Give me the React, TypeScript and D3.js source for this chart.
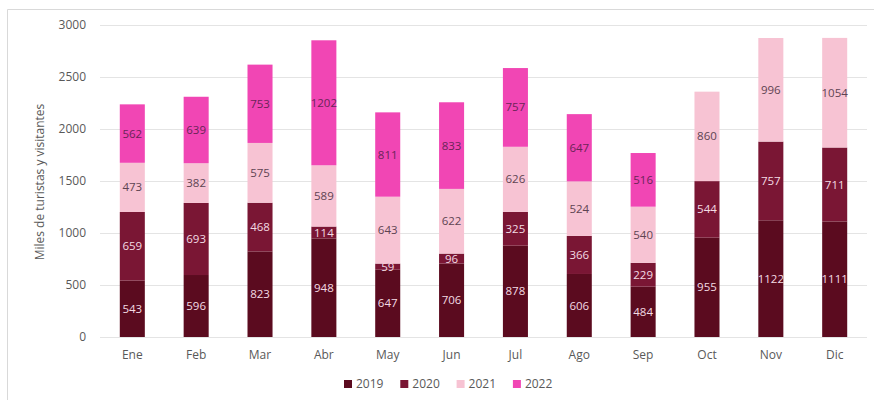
import * as d3 from "d3";

const months = ["Ene", "Feb", "Mar", "Abr", "May", "Jun", "Jul", "Ago", "Sep", "Oct", "Nov", "Dic"];
const years = ["2019", "2020", "2021", "2022"];
const v2019 = [543, 596, 823, 948, 647, 706, 878, 606, 484, 955, 1122, 1111];
const v2020 = [659, 693, 468, 114, 59, 96, 325, 366, 229, 544, 757, 711];
const v2021 = [473, 382, 575, 589, 643, 622, 626, 524, 540, 860, 996, 1054];
const v2022 = [562, 639, 753, 1202, 811, 833, 757, 647, 516, 0, 0, 0];
const yTicks = [0, 500, 1000, 1500, 2000, 2500, 3000];

const colors = ["#5b0b1f", "#7a1634", "#f7c3d3", "#f146b4"];
const labelColors = ["#f3dbe3", "#f3dbe3", "#5e4452", "#6a2457"];

const W = 874;
const H = 400;

export default function App() {
  const x = d3.scaleBand<string>().domain(months).range([100, 867]).paddingInner(0.608).paddingOuter(0.31);
  const y = d3.scaleLinear().domain([0, 3000]).range([337, 25]);

  const rows = months.map((m, i) => ({ m, "2019": v2019[i], "2020": v2020[i], "2021": v2021[i], "2022": v2022[i] }));
  const stacked = d3.stack<any>().keys(years)(rows);
  const font = "'Open Sans', 'Segoe UI', sans-serif";

  return (
    <div style={{ position: "absolute", left: 0, top: 0 }}>
      <svg width={W} height={H} style={{ display: "block", background: "#fff", fontFamily: font }}>
        {/* frame */}
        <line x1={7.5} x2={W} y1={9.5} y2={9.5} stroke="#d9d9d9" />
        <line x1={7.5} x2={7.5} y1={9.5} y2={H} stroke="#d9d9d9" />

        {/* grid + y ticks */}
        {yTicks.map((t) => (
          <g key={t}>
            <line x1={100} x2={867} y1={Math.round(y(t)) + 0.5} y2={Math.round(y(t)) + 0.5} stroke="#e4e4e4" />
            <text x={86} y={y(t)} dy="0.35em" textAnchor="end" fontSize={12} fill="#595959">
              {t}
            </text>
          </g>
        ))}

        <text transform="translate(44,182) rotate(-90)" textAnchor="middle" fontSize={12} fill="#595959">
          Miles de turistas y visitantes
        </text>

        {/* bars */}
        {stacked.map((s, si) => (
          <g key={s.key}>
            {s.map((d, i) =>
              d[1] - d[0] > 0 ? (
                <g key={i}>
                  <rect
                    x={x(months[i])}
                    y={y(d[1])}
                    width={x.bandwidth()}
                    height={y(d[0]) - y(d[1])}
                    fill={colors[si]}
                  />
                  <text
                    x={(x(months[i]) as number) + x.bandwidth() / 2}
                    y={(y(d[0]) + y(d[1])) / 2}
                    dy="0.35em"
                    textAnchor="middle"
                    fontSize={11.5}
                    fill={labelColors[si]}
                  >
                    {d[1] - d[0]}
                  </text>
                </g>
              ) : null
            )}
          </g>
        ))}

        {/* x labels */}
        {months.map((m) => (
          <text
            key={m}
            x={(x(m) as number) + x.bandwidth() / 2}
            y={355}
            dy="0.35em"
            textAnchor="middle"
            fontSize={12}
            fill="#595959"
          >
            {m}
          </text>
        ))}

        {/* legend */}
        {years.map((yr, i) => (
          <g key={yr} transform={`translate(${344 + i * 56.3},384)`}>
            <rect x={0} y={-4} width={8} height={8} fill={colors[i]} />
            <text x={12} y={0} dy="0.35em" fontSize={12} fill="#595959">
              {yr}
            </text>
          </g>
        ))}
      </svg>
    </div>
  );
}
